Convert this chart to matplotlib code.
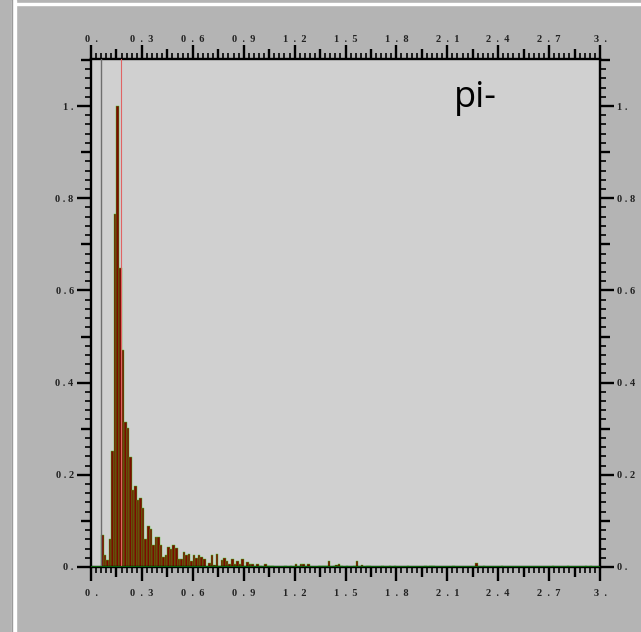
import matplotlib
matplotlib.use("Agg")
import matplotlib.pyplot as plt
from matplotlib.patches import Rectangle
from matplotlib.lines import Line2D
import numpy as np

# histogram: 200 bins of width 0.015 on [0, 3], normalised to the peak
bin_width = 0.015
n_bins = 200
filled = {
    4: 0.069, 5: 0.025, 6: 0.015, 7: 0.060, 8: 0.252, 9: 0.765,
    10: 1.0, 11: 0.649, 12: 0.471, 13: 0.314, 14: 0.301, 15: 0.238,
    16: 0.168, 17: 0.176, 18: 0.145, 19: 0.149, 20: 0.127, 21: 0.060,
    22: 0.088, 23: 0.083, 24: 0.048, 25: 0.064, 26: 0.064, 27: 0.047,
    28: 0.021, 29: 0.025, 30: 0.043, 31: 0.039, 32: 0.047, 33: 0.042,
    34: 0.017, 35: 0.017, 36: 0.033, 37: 0.025, 38: 0.029, 39: 0.012,
    40: 0.025, 41: 0.019, 42: 0.025, 43: 0.021, 44: 0.017, 46: 0.008,
    47: 0.025, 48: 0.004, 49: 0.029, 50: 0.002, 51: 0.016, 52: 0.020,
    53: 0.012, 54: 0.007, 55: 0.017, 56: 0.007, 57: 0.012, 58: 0.007,
    59: 0.017, 60: 0.002, 61: 0.011, 62: 0.007, 63: 0.007, 65: 0.007,
    66: 0.002, 68: 0.007, 69: 0.002, 70: 0.002, 71: 0.002, 76: 0.002,
    78: 0.002, 80: 0.007, 82: 0.007, 83: 0.007, 85: 0.007, 89: 0.002,
    90: 0.002, 91: 0.002, 92: 0.002, 93: 0.012, 95: 0.002, 96: 0.004,
    97: 0.007, 98: 0.002, 100: 0.002, 103: 0.002, 104: 0.012, 106: 0.004,
    108: 0.003, 109: 0.003, 114: 0.003, 117: 0.003, 119: 0.003, 124: 0.003,
    131: 0.003, 133: 0.003, 134: 0.003, 142: 0.003, 151: 0.008, 154: 0.003,
    161: 0.003, 181: 0.003, 187: 0.003, 194: 0.003, 196: 0.003,
}
counts = np.zeros(n_bins)
for k, v in filled.items():
    counts[k] = v
edges = np.arange(n_bins) * bin_width

cut_lines = [0.0588, 0.177]
label_text = "pi-"

x_major = np.round(np.arange(0, 3.0001, 0.15), 3)
x_labels = ["0  .", "0  .  3", "0  .  6", "0  .  9", "1  .  2", "1  .  5",
            "1  .  8", "2  .  1", "2  .  4", "2  .  7", "3  ."]
y_major = np.round(np.arange(0, 1.1001, 0.1), 3)
y_labels = ["0 .", "0 . 2", "0 . 4", "0 . 6", "0 . 8", "1 ."]

fig = plt.figure(figsize=(6.41, 6.32), dpi=100, facecolor="#b4b4b4")
W, H = 641, 632

# screenshot frame bits
fig.add_artist(Rectangle((12 / W, 0), 4 / W, 1, transform=fig.transFigure,
                         color="white", zorder=0))
fig.add_artist(Rectangle((16 / W, 1 - 5 / H), 1, 2 / H, transform=fig.transFigure,
                         color="white", zorder=0))
fig.add_artist(Line2D([11.5 / W, 11.5 / W], [0, 1], transform=fig.transFigure,
                      color="#9a9a9a", lw=1))

ax = fig.add_axes([91 / W, 1 - 567 / H, 509 / W, 508 / H])
ax.set_facecolor("#d0d0d0")

ax.bar(edges, counts, width=bin_width, align="edge", color="#7a0c00",
       edgecolor="#3ccc1e", linewidth=0.3, zorder=2)
ax.axvline(cut_lines[0], color="#6e6e6e", lw=1.0, zorder=3)
ax.axvline(cut_lines[1], color="#e06464", lw=0.8, zorder=3)
ax.axhline(0, color="#0c640c", lw=2.2, zorder=4)

ax.set_xlim(0, 3.0)
ax.set_ylim(0, 1.102)

for s in ax.spines.values():
    s.set_linewidth(1.7)
    s.set_color("black")

x_lab_full = [x_labels[i // 2] if i % 2 == 0 else "" for i in range(len(x_major))]
ax.set_xticks(x_major)
ax.set_xticklabels(x_lab_full)
ax.set_xticks(np.round(np.arange(0, 3.0001, 0.03), 3), minor=True)
ax.set_yticks(y_major)
ax.set_yticklabels([y_labels[i // 2] if i % 2 == 0 else "" for i in range(len(y_major))])
ax.set_yticks(np.round(np.arange(0, 1.1001, 0.02), 3), minor=True)

ax.tick_params(which="both", direction="out", top=True, right=True,
               labeltop=False, labelright=True, colors="black")
ax.tick_params(which="major", length=10, width=1.7)
ax.tick_params(which="minor", length=4.5, width=1.2)
ax.tick_params(axis="x", which="major", pad=6, labelsize=7.5, labelcolor="#222222")
ax.tick_params(axis="y", which="major", pad=2.5, labelsize=7.5, labelcolor="#222222")

# top labels sit closer to the frame than the bottom ones
top = ax.secondary_xaxis("top")
top.set_xticks(x_major[::2])
top.set_xticklabels(x_labels)
top.tick_params(length=0, pad=11, labelsize=7.5, labelcolor="#222222")
top.spines["top"].set_visible(False)

# medium ticks at the unlabelled major positions
for i, t in enumerate(ax.xaxis.get_major_ticks()):
    if i % 2 == 1:
        t.tick1line.set_markersize(7)
        t.tick2line.set_markersize(7)
for i, t in enumerate(ax.yaxis.get_major_ticks()):
    if i % 2 == 1:
        t.tick1line.set_markersize(7)
        t.tick2line.set_markersize(7)

for lab in ax.get_xticklabels() + ax.get_yticklabels() + top.get_xticklabels():
    lab.set_family("Liberation Serif")
    lab.set_weight("bold")

ax.text(0.712, 0.905, label_text, transform=ax.transAxes, fontsize=26,
        family="Open Sans", color="black", va="baseline", ha="left")

fig.savefig("out.png", dpi=100, facecolor=fig.get_facecolor())
